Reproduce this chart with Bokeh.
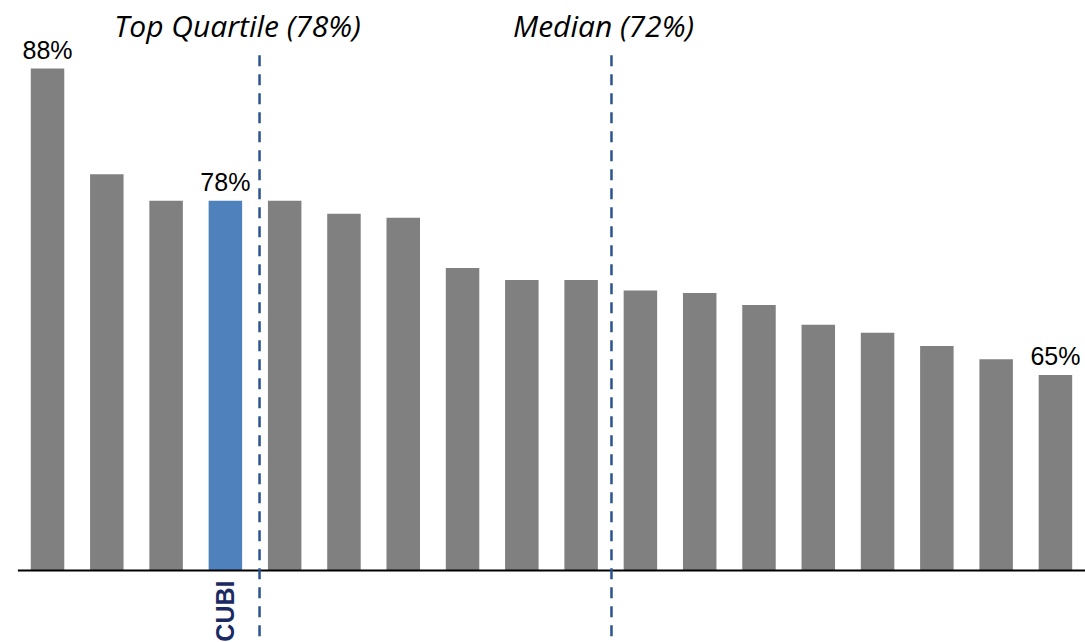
from bokeh.plotting import figure
from bokeh.models import ColumnDataSource, Range1d
from bokeh.core.properties import value
from bokeh.embed import file_html
from bokeh.resources import INLINE

# ---- data ----
banks = ["", "", "", "CUBI", "", "", "", "", "", "", "", "", "", "", "", "", "", ""]
ratios = [88.0, 80.0, 78.0, 78.0, 78.0, 77.0, 76.7, 72.9, 72.0, 72.0,
          71.2, 71.0, 70.1, 68.6, 68.0, 67.0, 66.0, 64.8]
labelled = [0, 3, 17]
value_labels = ["88%", "78%", "65%"]
highlight = "CUBI"
ref_labels = ["Top Quartile (78%)", "Median (72%)"]
ref_pos = [3.576, 9.512]
ref_label_x = [3.205, 9.378]
axis_base = 50.0

GRAY = "#808080"
BLUE = "#4F81BD"
DASH = "#2B5391"
NAVY = "#1B2A63"

xs = list(range(len(ratios)))
colors = [BLUE if b == highlight else GRAY for b in banks]
src = ColumnDataSource(dict(x=xs, top=ratios, color=colors))

p = figure(width=1085, height=642, output_backend="svg", toolbar_location=None,
           x_range=Range1d(-0.793, 17.507), y_range=Range1d(44.55, 93.15),
           min_border=0, min_border_left=0, min_border_right=0,
           min_border_top=0, min_border_bottom=0)
p.axis.visible = False
p.grid.visible = False
p.outline_line_color = None
p.background_fill_color = "white"
p.border_fill_color = "white"

p.vbar(x="x", top="top", bottom=axis_base, width=0.565, color="color",
       line_color=None, source=src)

# baseline
p.segment(x0=[-0.5], x1=[17.6], y0=[axis_base], y1=[axis_base],
          line_color="black", line_width=2)

# reference lines
p.segment(x0=ref_pos, x1=ref_pos, y0=[89.0] * 2, y1=[44.0] * 2,
          line_color=DASH, line_width=2.5, line_dash="11 8")
p.text(x=ref_label_x, y=[91.25] * 2, text=ref_labels, text_align="center",
       text_baseline="middle", text_font=value("Open Sans"),
       text_font_style="italic", text_font_size="30px", text_color="black")

# value labels
p.text(x=[xs[i] for i in labelled], y=[ratios[i] for i in labelled],
       text=value_labels, text_align="center", text_baseline="bottom",
       y_offset=-5, text_font=value("Liberation Sans"),
       text_font_size="25px", text_color="black")

# category label for highlighted bank
hi = [i for i, b in enumerate(banks) if b == highlight]
p.text(x=hi, y=[axis_base - 0.76] * len(hi), text=[banks[i] for i in hi],
       angle=1.5708, text_align="right", text_baseline="middle",
       text_font=value("Liberation Sans"), text_font_style="bold",
       text_font_size="25px", text_color=NAVY)

open("out.html", "w").write(file_html(p, INLINE))
